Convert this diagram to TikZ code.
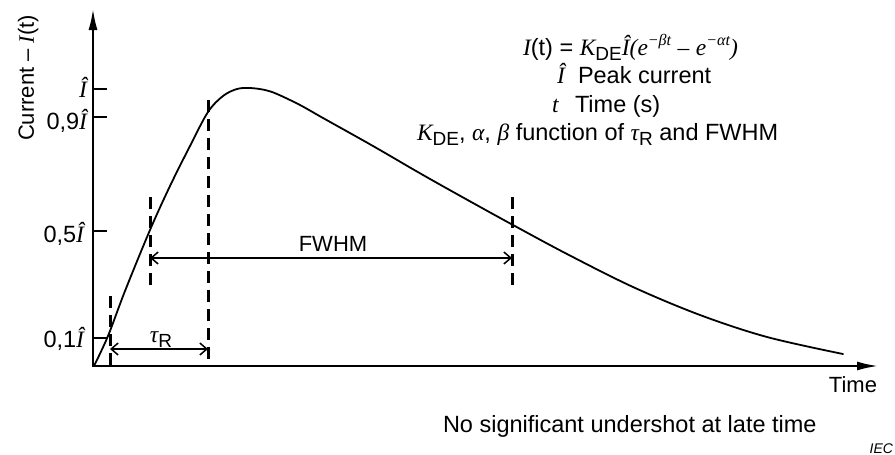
\documentclass[tikz,border=0pt]{standalone}
\usepackage{fontspec}
\setmainfont{Liberation Sans}
\newfontfamily\tms{Liberation Serif}
\usetikzlibrary{arrows.meta}
\newcommand\ti[1]{{\tms\itshape #1}}
\newcommand\subx[1]{\raisebox{-0.24em}{\fontsize{19}{19}\selectfont #1}}
\newcommand\supx[1]{\raisebox{0.42em}{\fontsize{16}{16}\selectfont\tms\itshape #1}}
\tikzset{
  axisline/.style={line width=2pt, line join=miter},
  tickline/.style={line width=2.2pt},
  curveline/.style={line width=1.8pt, line cap=round},
  dashline/.style={line width=3pt, dash pattern=on 12pt off 7pt},
  dimline/.style={line width=1.5pt, {Straight Barb[length=7pt,width=12pt]}-{Straight Barb[length=7pt,width=12pt]}},
  lbl/.style={inner sep=0pt, outer sep=0pt},
  big/.style={font=\fontsize{23.5}{28}\selectfont},
}
\begin{document}
\begin{tikzpicture}[x=1pt,y=-1pt,font=\fontsize{22}{26}\selectfont]
\useasboundingbox (0,0) rectangle (895,455);
% axes
\coordinate (O) at (93,366);
\coordinate (ytop) at (93,9);
\coordinate (xend) at (878,366);
\draw[axisline, {Latex[length=21pt,width=9pt]}-{Latex[length=21pt,width=9pt]}] (ytop) -- (O) -- (xend);
% ticks
\draw[tickline] (93,89) -- (107,89);
\draw[tickline] (93,117) -- (107,117);
\draw[tickline] (93,231) -- (107,231);
\draw[tickline] (93,338) -- (107,338);
% tick labels
\node[lbl, big, anchor=base east] (tI)  at (87,97)  {\ti{Î}};
\node[lbl, big, anchor=base east] (t09) at (87,129) {0,9\ti{Î}};
\node[lbl, big, anchor=base east] (t05) at (84,242) {0,5\ti{Î}};
\node[lbl, big, anchor=base east] (t01) at (84,347) {0,1\ti{Î}};
% axis labels
\node[lbl, rotate=90, anchor=base] (ylab) at (34,78) {Current – \ti{I}(t)};
\node[lbl, anchor=base east] (xlab) at (877,392) {Time};
% curve
\draw[curveline] plot[smooth, tension=0.55] coordinates {
 (94,366) (108,336) (125,291) (150,230) (170,186) (190,146) (208,112)
 (223,96) (237,89) (250,88) (265,90) (277,94) (300,105) (323,118)
 (373,146) (423,175) (473,203) (513,225) (567,254) (633,287)
 (700,315) (767,337) (843,354)};
% dashed markers
\coordinate (d1t) at (110,296); \coordinate (d1b) at (110,366);
\coordinate (d2t) at (150,197); \coordinate (d2b) at (150,286);
\coordinate (d3t) at (208,100); \coordinate (d3b) at (208,366);
\coordinate (d4t) at (512,197); \coordinate (d4b) at (512,286);
\draw[dashline] (d1t) -- (d1b);
\draw[dashline] (d2t) -- (d2b);
\draw[dashline] (d3t) -- (d3b);
\draw[dashline] (d4t) -- (d4b);
% dimension arrows
\coordinate (fwL) at (150,258); \coordinate (fwR) at (512,258);
\coordinate (taL) at (110,349); \coordinate (taR) at (208,349);
\draw[dimline] (fwL) -- (fwR);
\draw[dimline] (taL) -- (taR);
\node[lbl, anchor=base] (fwhm) at (333,251) {FWHM};
\node[lbl, big, anchor=base] (tau) at (161,342) {\ti{τ}\subx{R}};
% legend text
\node[lbl, big, anchor=base west] (eq) at (523,55)
  {\ti{I}(t) = \ti{K}\subx{DE}\ti{Î(e}\supx{−βt} \ti{–} \ti{e}\supx{−αt}\ti{)}};
\node[lbl, big, anchor=base west] (peak) at (557,83) {\makebox[21pt][l]{\ti{Î}}Peak current};
\node[lbl, big, anchor=base west] (time) at (552,112) {\makebox[23pt][l]{\ti{t}}Time (s)};
\node[lbl, big, anchor=base west] (fn) at (417,140)
  {\ti{K}\subx{DE}, \ti{α}, \ti{β} function of \ti{τ}\subx{R} and FWHM};
% bottom notes
\node[lbl, big, anchor=base west] (note) at (443,432) {No significant undershot at late time};
\node[lbl, anchor=base east, font=\fontsize{14}{16}\selectfont\itshape] (iec) at (893,453) {IEC};
\end{tikzpicture}
\end{document}
